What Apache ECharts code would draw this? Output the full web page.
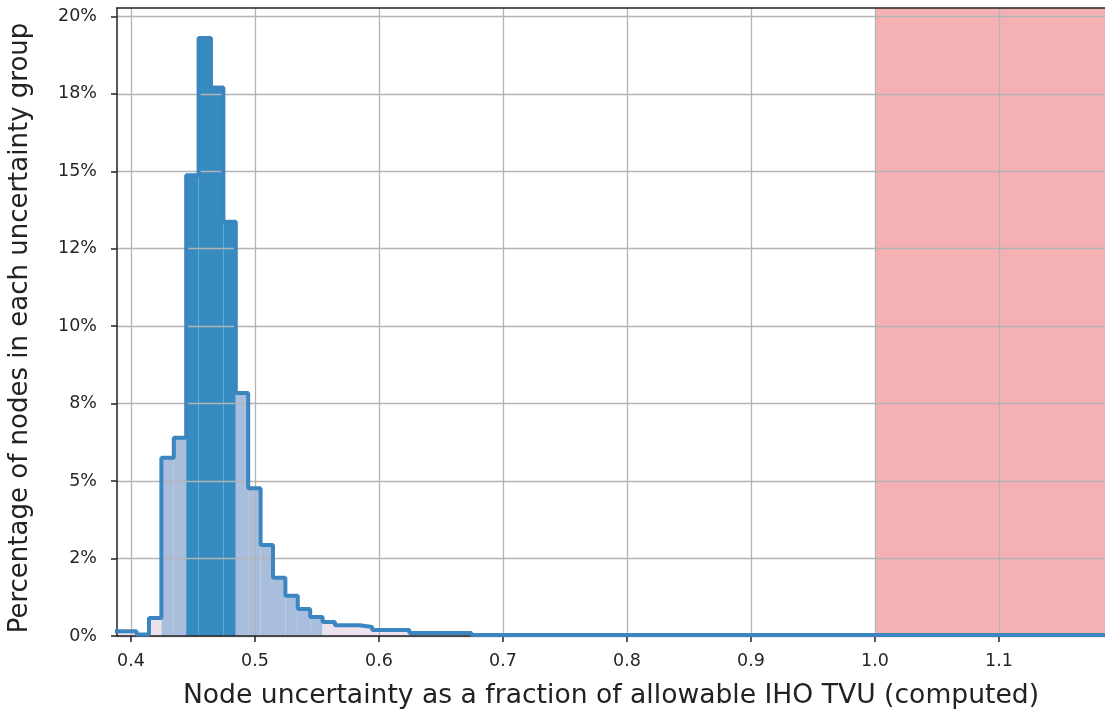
<!DOCTYPE html>
<html>
<head>
<meta charset="utf-8">
<script src="https://cdn.jsdelivr.net/npm/echarts@6/dist/echarts.min.js"></script>
<style>
  html, body { margin: 0; padding: 0; background: #fff; }
  #chart { width: 1105px; height: 715px; }
</style>
</head>
<body>
<div id="chart"></div>
<script>
// bin edges (fraction of allowable TVU) and share of nodes per bin (%)
const binEdges = [0.3845, 0.3945, 0.4045, 0.4145, 0.4245, 0.4345, 0.4445, 0.4545, 0.4645, 0.4745,
  0.4845, 0.4945, 0.5045, 0.5145, 0.5245, 0.5345, 0.5445, 0.5545, 0.5645, 0.5745,
  0.5845, 0.5945, 0.6045, 0.6145, 0.6245, 0.6345, 0.6445, 0.6545, 0.6645, 0.6745, 1.2];
const binPercent = [0.15, 0.15, 0.05, 0.58, 5.75, 6.4, 14.87, 19.3, 17.7, 13.37,
  7.84, 4.77, 2.94, 1.88, 1.3, 0.87, 0.61, 0.45, 0.35, 0.35,
  0.29, 0.19, 0.19, 0.19, 0.1, 0.1, 0.1, 0.1, 0.1, 0.03];

// shaded bands
const coreBand = [0.4445, 0.4845];
const shoulderBand = [0.4245, 0.5545];
const failBand = [1.0, 1.1855];

const X_MIN = 0.3887, X_MAX = 1.1855, Y_MAX = 20.27;

const xTicks = [0.4, 0.5, 0.6, 0.7, 0.8, 0.9, 1.0, 1.1];
const xTickLabels = ["0.4", "0.5", "0.6", "0.7", "0.8", "0.9", "1.0", "1.1"];
const yTicks = [0, 2.5, 5, 7.5, 10, 12.5, 15, 17.5, 20];
const yTickLabels = ["0%", "2%", "5%", "8%", "10%", "12%", "15%", "18%", "20%"];

const COL_LINE = "#3b86c0";
const COL_CORE = "#368cc0";
const COL_SHOULDER = "#a9bedc";
const COL_TAIL = "#ece2ee";
const COL_FAIL = "#f5b0b3";
const COL_GRID = "#b4b4b4";
const COL_AXIS = "#222";
const FONT = "DejaVu Sans";

function bandColor(x0) {
  if (x0 >= coreBand[0] - 1e-9 && x0 < coreBand[1] - 1e-9) return COL_CORE;
  if (x0 >= shoulderBand[0] - 1e-9 && x0 < shoulderBand[1] - 1e-9) return COL_SHOULDER;
  return COL_TAIL;
}

const fillData = binPercent.map((v, i) => ({
  value: [binEdges[i], binEdges[i + 1], v],
  itemStyle: { color: bandColor(binEdges[i]) },
}));

const outline = binPercent.map((v, i) => [binEdges[i], v]);
outline.push([binEdges[binEdges.length - 1], binPercent[binPercent.length - 1]]);

const pickLabel = (ticks, labels) => (v) =>
  labels[ticks.findIndex((t) => Math.abs(t - v) < 1e-6)] || "";

const chart = echarts.init(document.getElementById("chart"));

chart.setOption({
  animation: false,
  grid: { left: 117, right: 0, top: 8, bottom: 79, outerBoundsMode: "none" },
  xAxis: [
    {
      type: "value",
      min: X_MIN,
      max: X_MAX,
      z: 3,
      name: "Node uncertainty as a fraction of allowable IHO TVU (computed)",
      nameLocation: "middle",
      nameGap: 47,
      nameTextStyle: { fontFamily: FONT, fontSize: 26.6, color: "#222" },
      axisLine: { show: true, onZero: false, lineStyle: { color: COL_AXIS, width: 1.5 } },
      axisTick: { show: true, customValues: xTicks, length: 6, lineStyle: { color: COL_AXIS, width: 1.5 } },
      axisLabel: {
        customValues: xTicks,
        formatter: pickLabel(xTicks, xTickLabels),
        fontFamily: FONT,
        fontSize: 17.5,
        color: "#262626",
        margin: 16,
      },
      splitLine: { show: true, lineStyle: { color: COL_GRID, width: 1.3 } },
    },
    {
      type: "value",
      position: "top",
      min: X_MIN,
      max: X_MAX,
      z: 3,
      axisLine: { show: true, onZero: false, lineStyle: { color: COL_AXIS, width: 1.5 } },
      axisTick: { show: false },
      axisLabel: { show: false },
      splitLine: { show: false },
    },
  ],
  yAxis: {
    type: "value",
    min: 0,
    max: Y_MAX,
    z: 3,
    name: "Percentage of nodes in each uncertainty group",
    nameLocation: "middle",
    nameGap: 84,
    nameTextStyle: { fontFamily: FONT, fontSize: 26, color: "#222", padding: [0, 12, 0, 0] },
    axisLine: { show: true, onZero: false, lineStyle: { color: COL_AXIS, width: 1.5 } },
    axisTick: { show: true, customValues: yTicks, length: 6, lineStyle: { color: COL_AXIS, width: 1.5 } },
    axisLabel: {
      customValues: yTicks,
      formatter: pickLabel(yTicks, yTickLabels),
      fontFamily: FONT,
      fontSize: 17.5,
      color: "#262626",
      margin: 20,
    },
    splitLine: { show: true, lineStyle: { color: COL_GRID, width: 1.3 } },
  },
  series: [
    {
      type: "custom",
      z: 2,
      clip: true,
      encode: { x: [0, 1], y: 2 },
      renderItem(params, api) {
        const p0 = api.coord([api.value(0), api.value(2)]);
        const p1 = api.coord([api.value(1), 0]);
        return {
          type: "rect",
          shape: { x: p0[0], y: p0[1], width: p1[0] - p0[0], height: p1[1] - p0[1] },
          style: { fill: api.visual("color") },
        };
      },
      data: fillData,
    },
    {
      type: "line",
      step: "end",
      z: 4,
      clip: true,
      symbol: "none",
      lineStyle: { color: COL_LINE, width: 4 },
      data: outline,
      markArea: {
        silent: true,
        itemStyle: { color: COL_FAIL, opacity: 1 },
        data: [[{ coord: [failBand[0], 0] }, { coord: [failBand[1], Y_MAX] }]],
      },
    },
  ],
});
</script>
</body>
</html>
